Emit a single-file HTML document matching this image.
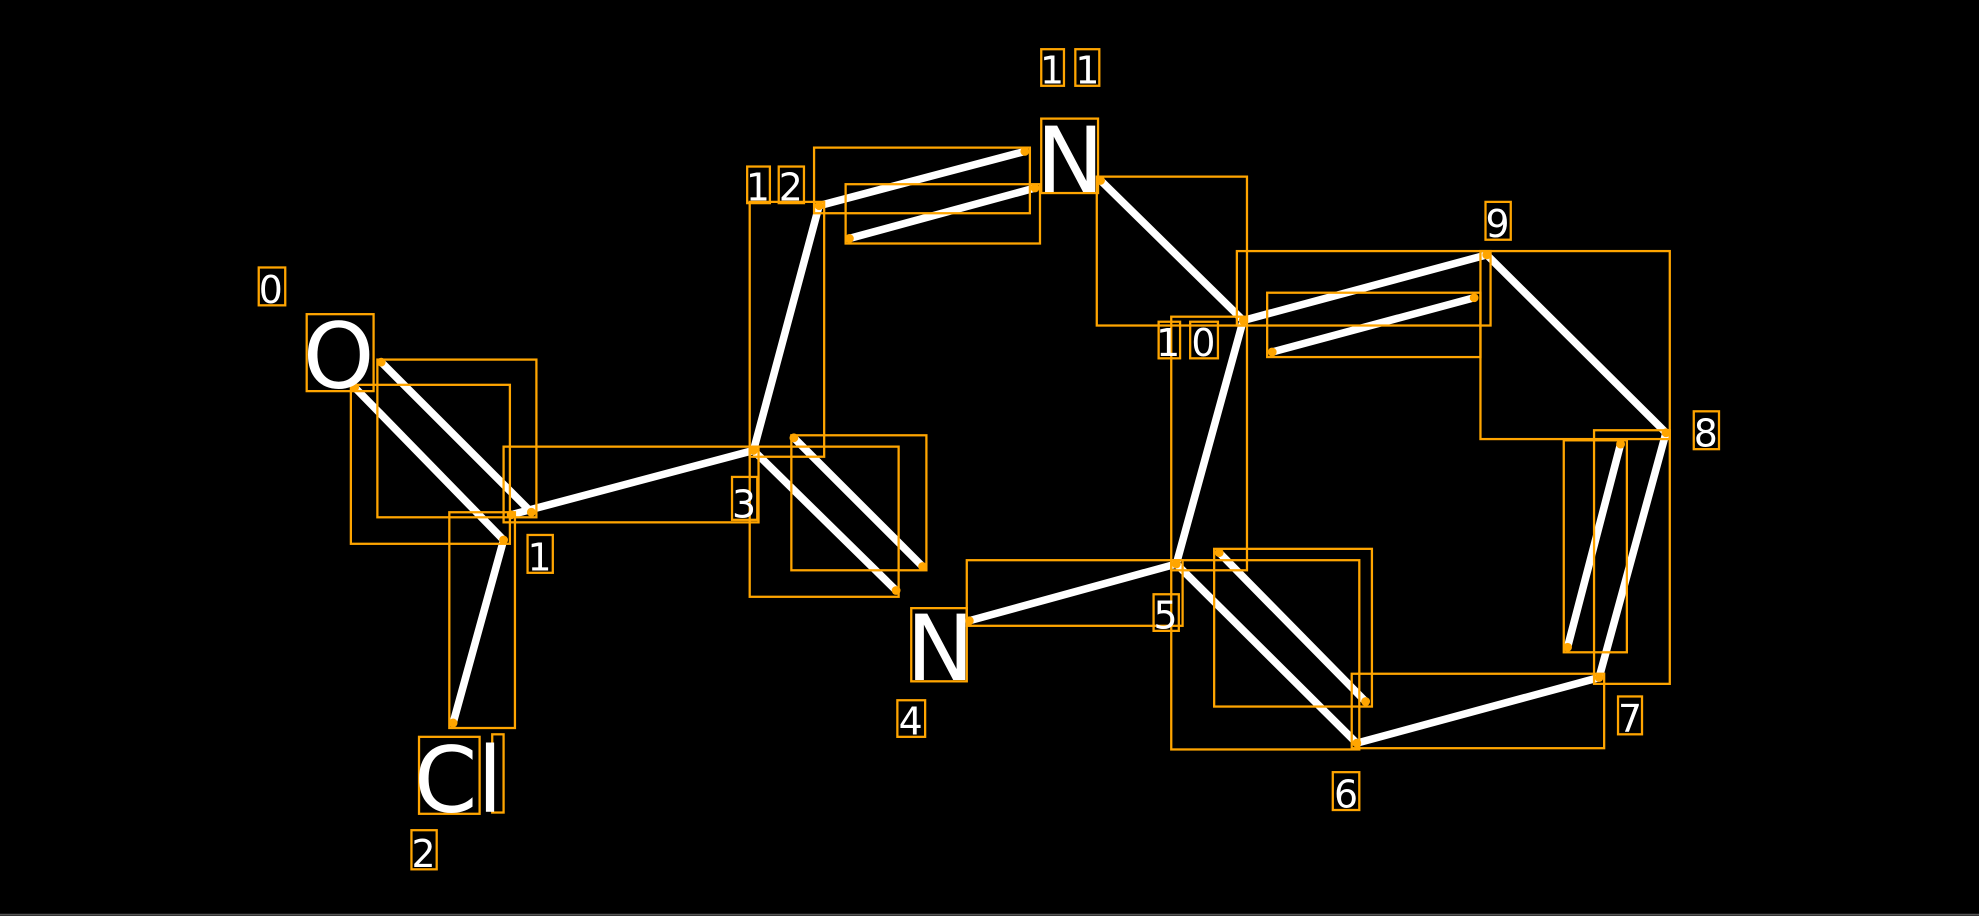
<!DOCTYPE html>
<html><head><meta charset="utf-8"><style>
html,body{margin:0;padding:0;background:#000;}
svg{display:block}
text{font-family:"DejaVu Sans","Liberation Sans",sans-serif;fill:#fff}
</style></head><body>
<svg width="1979" height="916" viewBox="0 0 1568 726" preserveAspectRatio="none" xmlns="http://www.w3.org/2000/svg">
<rect x="0" y="0" width="1568" height="726" fill="#000"/>
<line x1="0" y1="725" x2="1568" y2="725" stroke="#555" stroke-width="1.5"/>
<g stroke="#fff" stroke-width="6" stroke-linecap="round">
<line x1="281" y1="307" x2="399" y2="428"/>
<line x1="302" y1="287" x2="421" y2="406"/>
<line x1="405" y1="408" x2="597" y2="357"/>
<line x1="399" y1="428" x2="359" y2="573"/>
<line x1="597" y1="357" x2="649" y2="163"/>
<line x1="649" y1="163" x2="812" y2="120"/>
<line x1="673" y1="189" x2="820" y2="149"/>
<line x1="872" y1="143" x2="985" y2="254"/>
<line x1="985" y1="254" x2="1178" y2="202"/>
<line x1="1008" y1="279" x2="1168" y2="236"/>
<line x1="1178" y1="202" x2="1320" y2="343"/>
<line x1="1320" y1="343" x2="1267" y2="537"/>
<line x1="1284" y1="352" x2="1242" y2="513"/>
<line x1="1267" y1="537" x2="1075" y2="589"/>
<line x1="1075" y1="589" x2="932" y2="447"/>
<line x1="966" y1="438" x2="1082" y2="556"/>
<line x1="932" y1="447" x2="985" y2="254"/>
<line x1="932" y1="447" x2="768" y2="492"/>
<line x1="597" y1="357" x2="710" y2="468"/>
<line x1="629" y1="347" x2="731" y2="449"/>
</g>
<g fill="none" stroke="#FFA500" stroke-width="1.8">
<rect x="243" y="249" width="53" height="61"/>
<rect x="205" y="212" width="21" height="30"/>
<rect x="299" y="285" width="126" height="125"/>
<rect x="278" y="305" width="126" height="126"/>
<rect x="399" y="354" width="202" height="60"/>
<rect x="356" y="406" width="52" height="171"/>
<rect x="332" y="584" width="48" height="61"/>
<rect x="390" y="582" width="9" height="62"/>
<rect x="326" y="658" width="20" height="31"/>
<rect x="418" y="424" width="20" height="30"/>
<rect x="580" y="378" width="20" height="34"/>
<rect x="594" y="160" width="59" height="202"/>
<rect x="594" y="354" width="118" height="119"/>
<rect x="627" y="345" width="107" height="107"/>
<rect x="592" y="132" width="18" height="29"/>
<rect x="617" y="132" width="20" height="29"/>
<rect x="645" y="117" width="171" height="52"/>
<rect x="670" y="146" width="154" height="47"/>
<rect x="825" y="94" width="45" height="59"/>
<rect x="825" y="39" width="18" height="29"/>
<rect x="852" y="39" width="19" height="29"/>
<rect x="869" y="140" width="119" height="118"/>
<rect x="928" y="251" width="60" height="201"/>
<rect x="918" y="255" width="17" height="29"/>
<rect x="943" y="255" width="22" height="29"/>
<rect x="980" y="199" width="201" height="59"/>
<rect x="1004" y="232" width="169" height="51"/>
<rect x="1177" y="160" width="20" height="30"/>
<rect x="1173" y="199" width="150" height="149"/>
<rect x="1263" y="341" width="60" height="201"/>
<rect x="1239" y="349" width="50" height="168"/>
<rect x="1342" y="326" width="20" height="30"/>
<rect x="1282" y="552" width="19" height="30"/>
<rect x="1071" y="534" width="200" height="59"/>
<rect x="928" y="444" width="149" height="150"/>
<rect x="962" y="435" width="125" height="125"/>
<rect x="766" y="444" width="171" height="52"/>
<rect x="914" y="471" width="20" height="29"/>
<rect x="1056" y="612" width="21" height="30"/>
<rect x="722" y="482" width="44" height="58"/>
<rect x="711" y="555" width="22" height="29"/>
</g>
<g fill="#FFA500">
<circle cx="281" cy="307" r="3.5"/><circle cx="302" cy="287" r="3.5"/>
<circle cx="399" cy="428" r="3.5"/><circle cx="421" cy="406" r="3.5"/>
<circle cx="405" cy="408" r="3.5"/><circle cx="597" cy="357" r="3.5"/>
<circle cx="359" cy="573" r="3.5"/><circle cx="649" cy="163" r="3.5"/>
<circle cx="812" cy="120" r="3.5"/><circle cx="673" cy="189" r="3.5"/>
<circle cx="820" cy="149" r="3.5"/><circle cx="872" cy="143" r="3.5"/>
<circle cx="985" cy="254" r="3.5"/><circle cx="1178" cy="202" r="3.5"/>
<circle cx="1008" cy="279" r="3.5"/><circle cx="1168" cy="236" r="3.5"/>
<circle cx="1320" cy="343" r="3.5"/><circle cx="1267" cy="537" r="3.5"/>
<circle cx="1284" cy="352" r="3.5"/><circle cx="1242" cy="513" r="3.5"/>
<circle cx="1075" cy="589" r="3.5"/><circle cx="932" cy="447" r="3.5"/>
<circle cx="966" cy="438" r="3.5"/><circle cx="1082" cy="556" r="3.5"/>
<circle cx="768" cy="492" r="3.5"/><circle cx="710" cy="468" r="3.5"/>
<circle cx="629" cy="347" r="3.5"/><circle cx="731" cy="449" r="3.5"/>
</g>
<g font-size="72">
<text x="240" y="307">O</text>
<text x="821" y="152">N</text>
<text x="718" y="539">N</text>
<text x="328" y="643">Cl</text>
</g>
<g font-size="30">
<text x="205" y="240">0</text>
<text x="418" y="452">1</text>
<text x="326" y="687">2</text>
<text x="580" y="410">3</text>
<text x="712" y="582">4</text>
<text x="914" y="498">5</text>
<text x="1057" y="640">6</text>
<text x="1282" y="580">7</text>
<text x="1342" y="354">8</text>
<text x="1177" y="188">9</text>
<text x="916" y="282">1</text><text x="944" y="282">0</text>
<text x="824" y="66">1</text><text x="852" y="66">1</text>
<text x="591" y="159">1</text><text x="617" y="159">2</text>
</g>
</svg>
</body></html>
